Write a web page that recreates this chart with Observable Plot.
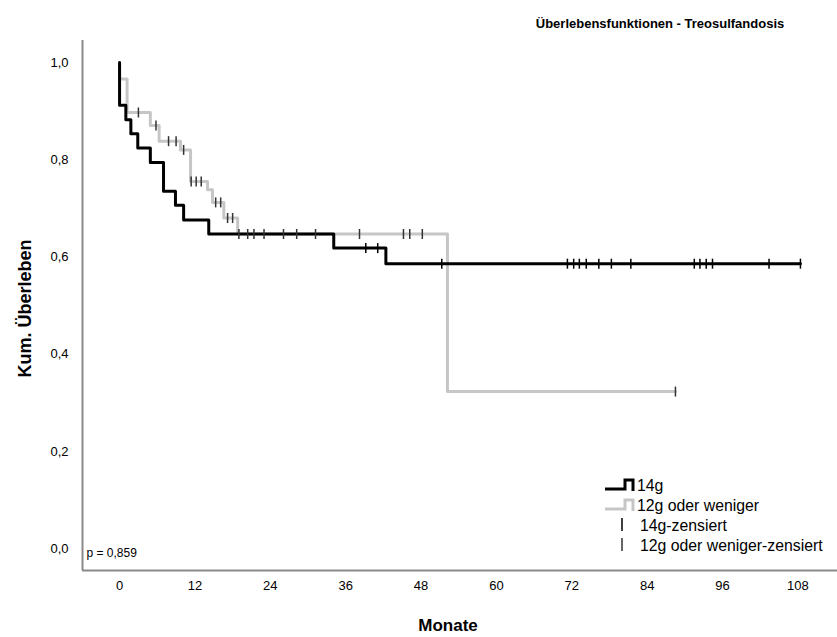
<!DOCTYPE html>
<html><head><meta charset="utf-8">
<script src="https://cdn.jsdelivr.net/npm/d3@7"></script>
<script src="https://cdn.jsdelivr.net/npm/@observablehq/plot@0.6"></script>
<style>
body{margin:0;background:#fff;}
#wrap{position:relative;width:837px;height:637px;overflow:hidden;}
#legend{position:absolute;left:600px;top:472px;}
#legend text{font-family:"Liberation Sans",Arial,sans-serif;font-size:15.8px;fill:#000;}
</style></head><body><div id="wrap"></div>
<script>
// ---- data ----
const groups = ["14g", "12g oder weniger"];
const censorLabels = ["14g-zensiert", "12g oder weniger-zensiert"];
const title = "Überlebensfunktionen - Treosulfandosis";
const xLabel = "Monate";
const yLabel = "Kum. Überleben";
const pText = "p = 0,859";
const xTicks = [0, 12, 24, 36, 48, 60, 72, 84, 96, 108];
const yTicks = [0, 0.2, 0.4, 0.6, 0.8, 1.0];

// 14g: step times (months) and cumulative survival
const time14 = [0, 0, 1.0, 1.8, 2.9, 4.9, 7.0, 8.9, 10.2, 14.2, 34.1, 42.4, 108.4];
const surv14 = [1.0, 0.912, 0.882, 0.853, 0.824, 0.794, 0.735, 0.706, 0.676, 0.647, 0.618, 0.586, 0.586];
const cens14 = [39.2, 41.1, 51.3, 71.3, 72.3, 73.2, 74.3, 76.3, 78.3, 81.4, 91.5, 92.4, 93.4, 94.4, 103.4, 108.4];

// 12g oder weniger
const time12 = [0, 0, 1.2, 4.9, 6.3, 9.7, 11.3, 14.0, 14.8, 16.6, 18.8, 52.2, 88.5];
const surv12 = [1.0, 0.966, 0.897, 0.870, 0.838, 0.820, 0.755, 0.738, 0.712, 0.680, 0.647, 0.323, 0.323];
const cens12 = [3.0, 5.8, 7.8, 9.0, 10.2, 11.4, 12.2, 13.0, 15.3, 16.1, 17.2, 18.0, 19.0, 20.4, 21.4, 23.0, 26.1, 28.2, 31.2, 38.2, 45.2, 46.2, 48.2, 88.5];

// ---- build tables ----
const steps14 = time14.map((t, i) => ({t, s: surv14[i]}));
const steps12 = time12.map((t, i) => ({t, s: surv12[i]}));
function survAt(times, survs, t) {
  let v = survs[0];
  for (let i = 0; i < times.length; i++) if (times[i] <= t) v = survs[i];
  return v;
}
const c14 = cens14.map(t => ({t, s: survAt(time14, surv14, t)}));
const c12 = cens12.map(t => ({t, s: survAt(time12, surv12, t)}));

const xDomain = [-5.9, 114.3];
const yDomain = [-0.045, 1.045];
const FONT = '"Liberation Sans", Arial, sans-serif';

const vbar = {draw(ctx, size) { const h = Math.sqrt(size / Math.PI); ctx.moveTo(0, -h); ctx.lineTo(0, h); }};

const chart = Plot.plot({
  width: 837, height: 637,
  marginLeft: 82, marginRight: 0, marginTop: 40, marginBottom: 67,
  style: {fontFamily: FONT, fontSize: "13px", color: "#000", background: "#fff", overflow: "visible"},
  x: {domain: xDomain, ticks: xTicks, tickSize: 0, tickPadding: 10, label: null, tickFormat: d => String(d)},
  y: {domain: yDomain, ticks: yTicks, tickSize: 0, tickPadding: 14, label: null,
      tickFormat: d => d.toFixed(1).replace(".", ",")},
  marks: [
    Plot.ruleX([xDomain[0]], {stroke: "#8a8a8a", strokeWidth: 2}),
    Plot.ruleY([yDomain[0]], {stroke: "#8a8a8a", strokeWidth: 2}),
    Plot.line(steps12, {x: "t", y: "s", curve: "step-after", stroke: "#c6c6c6", strokeWidth: 3}),
    Plot.line(steps14, {x: "t", y: "s", curve: "step-after", stroke: "#000", strokeWidth: 3}),
    Plot.dot(c12, {x: "t", y: "s", symbol: vbar, r: 5, stroke: "#333", strokeWidth: 1.5, fill: "none"}),
    Plot.dot(c14, {x: "t", y: "s", symbol: vbar, r: 5, stroke: "#000", strokeWidth: 1.5, fill: "none"}),
    Plot.text([pText], {text: d => d, frameAnchor: "bottom-left", dx: 4, dy: -14, fontSize: 12, fontFamily: FONT, textAnchor: "start"}),
    Plot.text([title], {text: d => d, frameAnchor: "top", dx: 200, dy: -22, fontSize: 13, fontWeight: "bold", fontFamily: FONT, textAnchor: "middle"}),
    Plot.text([yLabel], {text: d => d, frameAnchor: "left", dx: -57, dy: 3, rotate: -90, fontSize: 18, fontWeight: "bold", fontFamily: FONT, textAnchor: "middle"}),
    Plot.text([xLabel], {text: d => d, frameAnchor: "bottom", dx: -12, dy: 60, fontSize: 17, fontWeight: "bold", fontFamily: FONT, textAnchor: "middle"})
  ]
});
document.getElementById("wrap").appendChild(chart);

// ---- legend ----
const ns = "http://www.w3.org/2000/svg";
const lg = document.createElementNS(ns, "svg");
lg.setAttribute("id", "legend");
lg.setAttribute("width", 237); lg.setAttribute("height", 95);
const lines = [
  {label: groups[0], kind: "line", color: "#000"},
  {label: groups[1], kind: "line", color: "#c6c6c6"},
  {label: censorLabels[0], kind: "tick", color: "#000"},
  {label: censorLabels[1], kind: "tick", color: "#333"}
];
lines.forEach((d, i) => {
  const y0 = 12 + i * 20;
  if (d.kind === "line") {
    const p = document.createElementNS(ns, "path");
    p.setAttribute("d", `M5,${y0 + 5}H25V${y0 - 4}H33V${y0 + 7}`);
    p.setAttribute("fill", "none"); p.setAttribute("stroke", d.color); p.setAttribute("stroke-width", 3);
    lg.appendChild(p);
  } else {
    const p = document.createElementNS(ns, "path");
    p.setAttribute("d", `M22,${y0 - 6}V${y0 + 7}`);
    p.setAttribute("stroke", d.color); p.setAttribute("stroke-width", 1.5);
    lg.appendChild(p);
  }
  const t = document.createElementNS(ns, "text");
  t.setAttribute("x", d.kind === "line" ? 37 : 40);
  t.setAttribute("y", y0 + 7);
  t.textContent = d.label;
  lg.appendChild(t);
});
document.getElementById("wrap").appendChild(lg);
</script>
</body></html>
